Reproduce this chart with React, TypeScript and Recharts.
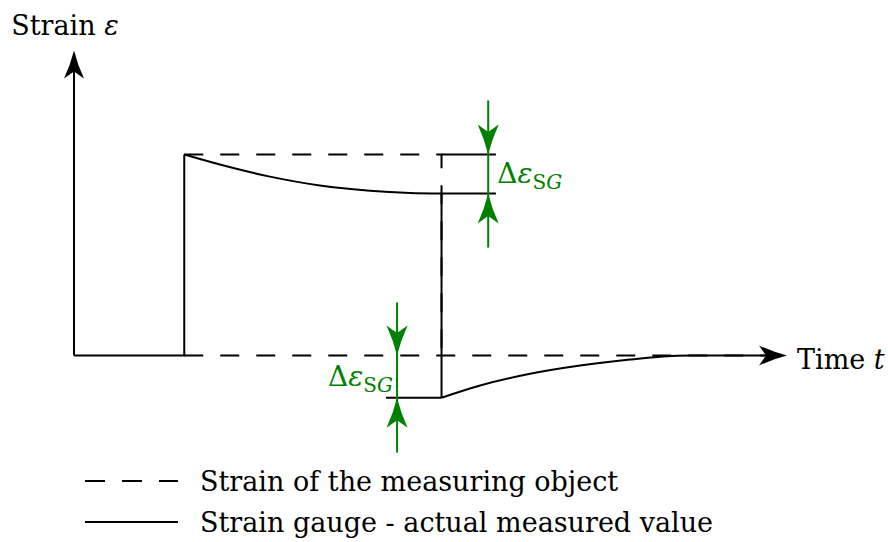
import React from 'react';
import {
  LineChart,
  Line,
  XAxis,
  YAxis,
  ReferenceLine,
  ReferenceDot,
} from 'recharts';

// time in arbitrary units, strain normalised to the applied step
const timeDomain = [0, 19.4];
const strainDomain = [-0.5, 1.52];

const stepOn = 3;
const stepOff = 10;
const gaugeDrop = 0.806;
const gaugeUndershoot = -0.21;

const objectStrain = [
  { t: 3, e: 1 },
  { t: 10, e: 1 },
  { t: 10, e: 0 },
];

const gaugeRise = [
  { t: 0, e: 0 },
  { t: 3, e: 0 },
  { t: 3, e: 1 },
];

const gaugeCreep = [
  { t: 3, e: 1 },
  { t: 3.97, e: 0.95 },
  { t: 5.33, e: 0.89 },
  { t: 6.69, e: 0.846 },
  { t: 8.05, e: 0.82 },
  { t: 9.14, e: 0.809 },
  { t: 10, e: 0.806 },
];

const gaugeFall = [
  { t: 10, e: 0.806 },
  { t: 10, e: -0.21 },
];

const gaugeRecovery = [
  { t: 10, e: -0.21 },
  { t: 11.05, e: -0.149 },
  { t: 12.41, e: -0.091 },
  { t: 13.77, e: -0.05 },
  { t: 15.13, e: -0.02 },
  { t: 16.03, e: -0.005 },
  { t: 16.76, e: 0 },
  { t: 19.0, e: 0 },
];

const legendItems = [
  { label: 'Strain of the measuring object', dashed: true },
  { label: 'Strain gauge - actual measured value', dashed: false },
];

const GREEN = '#008000';
const FONT = '"DejaVu Serif", serif';
const DASH = '19 17';

type Dir = 'up' | 'down' | 'right';

const arrowHead = (len: number, half: number, color: string, dir: Dir) => (props: any) => {
  const { cx, cy } = props;
  const angle = dir === 'right' ? 0 : dir === 'down' ? 90 : -90;
  const notch = len * 0.75;
  const d = `M0,0 Q${-len * 0.5},${-half * 0.35} ${-len},${-half} L${-notch},0 L${-len},${half} Q${-len * 0.5},${half * 0.35} 0,0 Z`;
  return <path d={d} fill={color} transform={`translate(${cx},${cy}) rotate(${angle})`} />;
};

const deltaLabel = (anchor: 'start' | 'end', dx: number, dy: number) => (props: any) => {
  const { cx, cy } = props;
  return (
    <text x={cx + dx} y={cy + dy} fill={GREEN} fontFamily={FONT} fontSize={28} textAnchor={anchor}>
      Δ<tspan fontStyle="italic">ε</tspan>
      <tspan fontSize={20} dy={6}>S</tspan>
      <tspan fontSize={20} fontStyle="italic">G</tspan>
    </text>
  );
};

const axisTitle = (name: string, sym: string, dx: number, dy: number, anchor: 'start' | 'middle') => (props: any) => {
  const { cx, cy } = props;
  return (
    <text x={cx + dx} y={cy + dy} fill="#000" fontFamily={FONT} fontSize={27} textAnchor={anchor}>
      {name} <tspan fontStyle="italic">{sym}</tspan>
    </text>
  );
};

const Legend = () => (
  <svg width={888} height={90} style={{ position: 'absolute', left: 0, top: 455 }}>
    {legendItems.map((item, i) => {
      const y = 26 + i * 41;
      return (
        <g key={item.label}>
          <line x1={85} x2={178} y1={y} y2={y} stroke="#000" strokeWidth={2}
            strokeDasharray={item.dashed ? '20 17' : undefined} />
          <text x={200} y={y + 10} fontFamily={FONT} fontSize={27} fill="#000">{item.label}</text>
        </g>
      );
    })}
  </svg>
);

const App = () => {
  const upperArrowT = 11.27;
  const lowerArrowT = 8.79;
  return (
    <div style={{ position: 'absolute', left: 0, top: 0, width: 888, height: 542, background: '#fff' }}>
      <LineChart width={888} height={542} margin={{ top: 50, right: 101, bottom: 86, left: 74 }}>
        <XAxis type="number" dataKey="t" domain={timeDomain} hide allowDataOverflow />
        <YAxis type="number" dataKey="e" domain={strainDomain} hide allowDataOverflow />

        {/* axes */}
        <ReferenceLine segment={[{ x: 0, y: 0 }, { x: 0, y: 1.45 }]} stroke="#000" strokeWidth={2} ifOverflow="visible" />
        <ReferenceLine segment={[{ x: stepOn, y: 0 }, { x: 18.8, y: 0 }]} stroke="#000" strokeWidth={2}
          strokeDasharray={DASH} ifOverflow="visible" />
        <ReferenceDot x={0} y={1.517} r={0} ifOverflow="visible" shape={arrowHead(28, 10, '#000', 'up')} />
        <ReferenceDot x={19.4} y={0} r={0} ifOverflow="visible" shape={arrowHead(28, 10, '#000', 'right')} />
        <ReferenceDot x={0} y={1.517} r={0} ifOverflow="visible" shape={axisTitle('Strain', 'ε', -9, -16, 'middle')} />
        <ReferenceDot x={19.4} y={0} r={0} ifOverflow="visible" shape={axisTitle('Time', 't', 10, 13, 'start')} />

        {/* object strain (dashed) */}
        <Line data={objectStrain} dataKey="e" type="linear" stroke="#000" strokeWidth={2}
          strokeDasharray={DASH} dot={false} activeDot={false} isAnimationActive={false} />

        {/* strain gauge reading */}
        <Line data={gaugeRise} dataKey="e" type="linear" stroke="#000" strokeWidth={2}
          dot={false} activeDot={false} isAnimationActive={false} />
        <Line data={gaugeCreep} dataKey="e" type="monotone" stroke="#000" strokeWidth={2}
          dot={false} activeDot={false} isAnimationActive={false} />
        <Line data={gaugeFall} dataKey="e" type="linear" stroke="#000" strokeWidth={2}
          dot={false} activeDot={false} isAnimationActive={false} />
        <Line data={gaugeRecovery} dataKey="e" type="monotone" stroke="#000" strokeWidth={2}
          dot={false} activeDot={false} isAnimationActive={false} />

        {/* extension lines for the deviations */}
        <ReferenceLine segment={[{ x: stepOff, y: 1 }, { x: 11.48, y: 1 }]} stroke="#000" strokeWidth={2} ifOverflow="visible" />
        <ReferenceLine segment={[{ x: stepOff, y: gaugeDrop }, { x: 11.48, y: gaugeDrop }]} stroke="#000" strokeWidth={2} ifOverflow="visible" />
        <ReferenceLine segment={[{ x: 8.49, y: gaugeUndershoot }, { x: stepOff, y: gaugeUndershoot }]} stroke="#000" strokeWidth={2} ifOverflow="visible" />

        {/* upper Δε_SG */}
        <ReferenceLine segment={[{ x: upperArrowT, y: 1.269 }, { x: upperArrowT, y: 0.537 }]} stroke={GREEN} strokeWidth={2} ifOverflow="visible" />
        <ReferenceDot x={upperArrowT} y={1} r={0} ifOverflow="visible" shape={arrowHead(30, 10.5, GREEN, 'down')} />
        <ReferenceDot x={upperArrowT} y={gaugeDrop} r={0} ifOverflow="visible" shape={arrowHead(30, 10.5, GREEN, 'up')} />
        <ReferenceDot x={upperArrowT} y={(1 + gaugeDrop) / 2} r={0} ifOverflow="visible" shape={deltaLabel('start', 9, 9)} />

        {/* lower Δε_SG */}
        <ReferenceLine segment={[{ x: lowerArrowT, y: 0.264 }, { x: lowerArrowT, y: -0.483 }]} stroke={GREEN} strokeWidth={2} ifOverflow="visible" />
        <ReferenceDot x={lowerArrowT} y={0} r={0} ifOverflow="visible" shape={arrowHead(30, 10.5, GREEN, 'down')} />
        <ReferenceDot x={lowerArrowT} y={gaugeUndershoot} r={0} ifOverflow="visible" shape={arrowHead(30, 10.5, GREEN, 'up')} />
        <ReferenceDot x={lowerArrowT} y={gaugeUndershoot / 2} r={0} ifOverflow="visible" shape={deltaLabel('end', -4, 9)} />
      </LineChart>
      <Legend />
    </div>
  );
};

export default App;
